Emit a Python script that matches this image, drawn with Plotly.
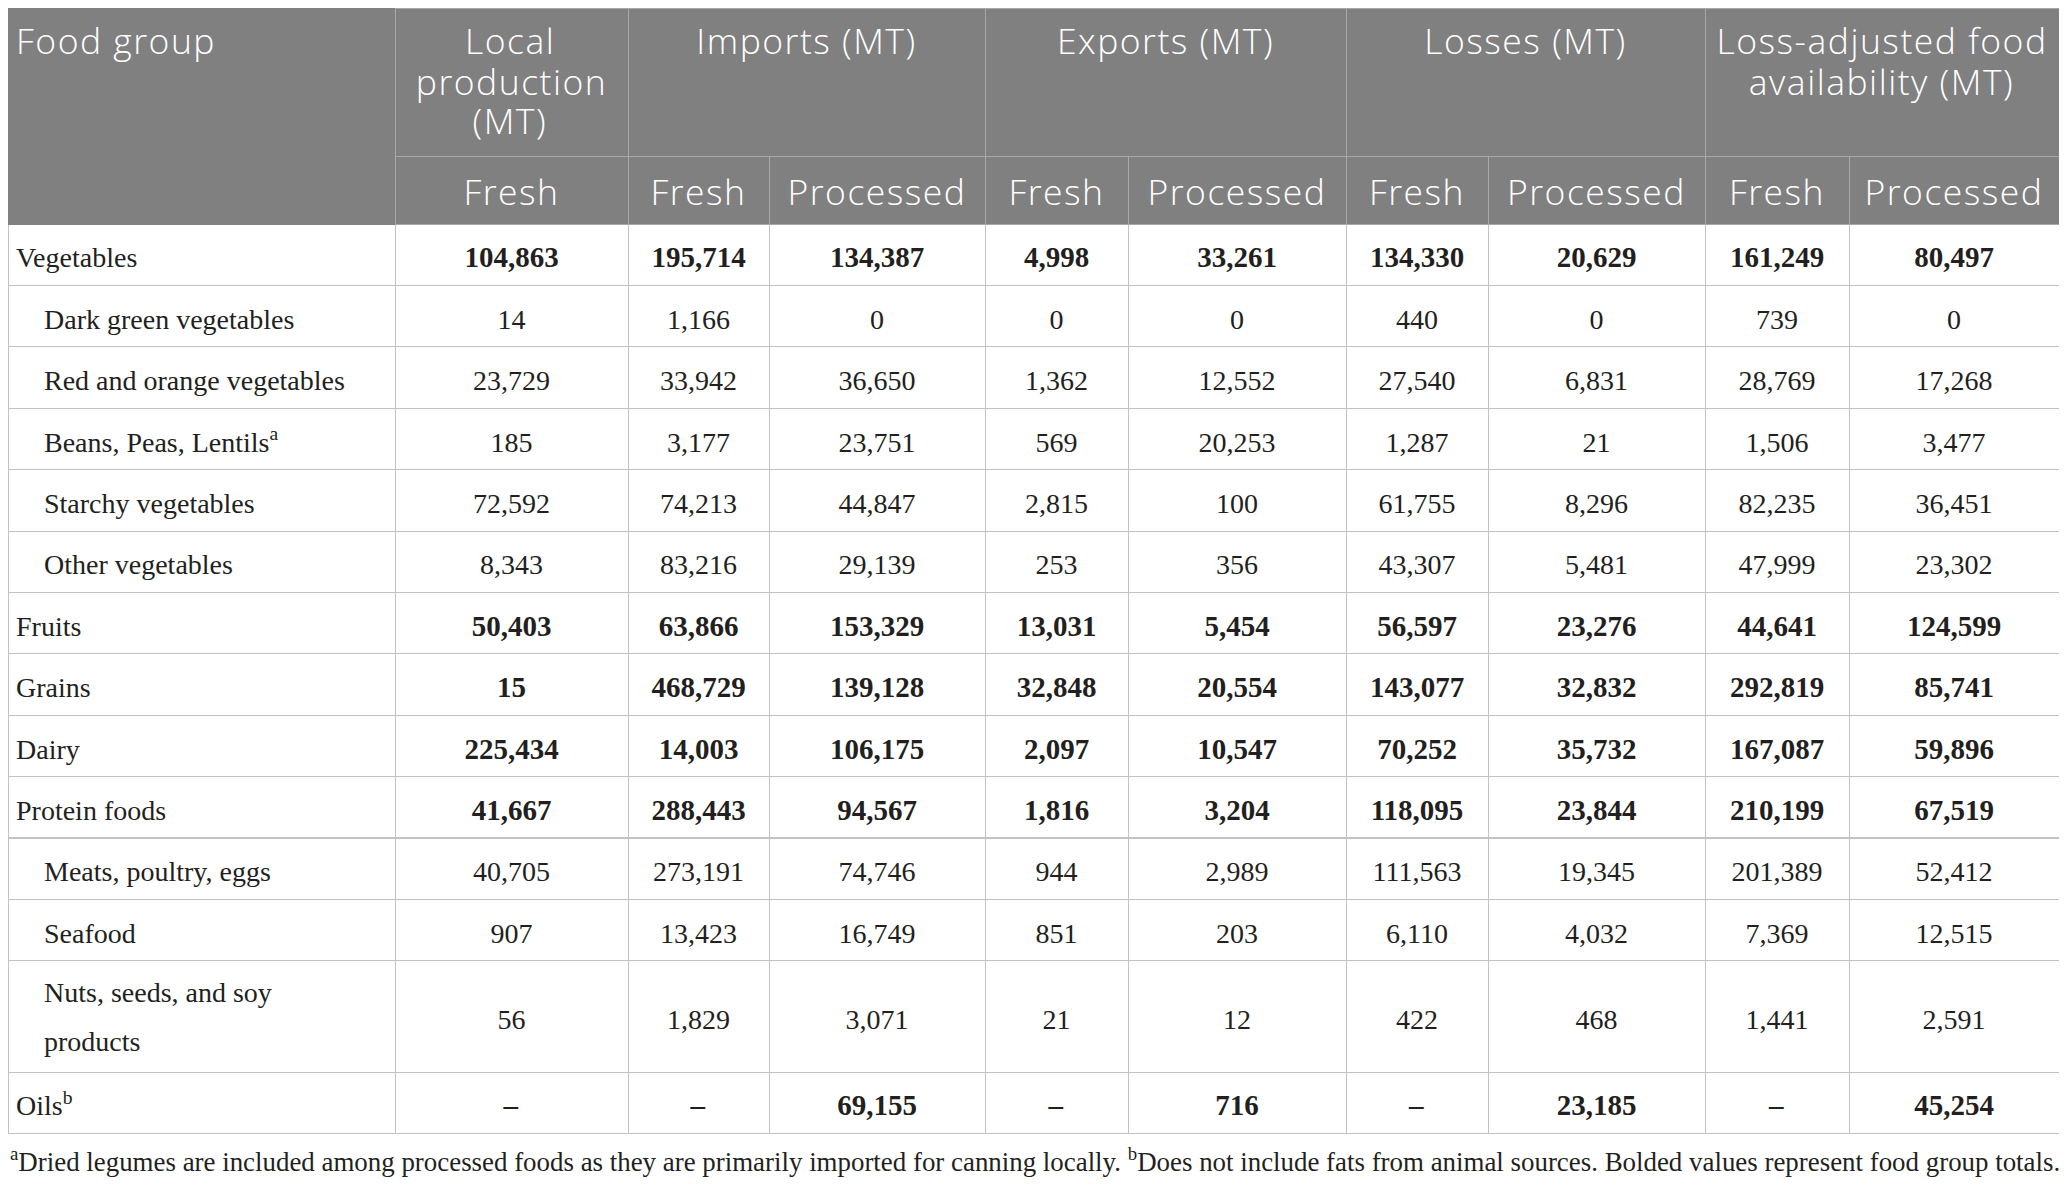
import plotly.graph_objects as go

# ---------------- data ----------------
food_groups = [
    "Vegetables", "Dark green vegetables", "Red and orange vegetables",
    "Beans, Peas, Lentils<sup>a</sup>", "Starchy vegetables", "Other vegetables",
    "Fruits", "Grains", "Dairy", "Protein foods", "Meats, poultry, eggs",
    "Seafood", "Nuts, seeds, and soy<br>products", "Oils<sup>b</sup>",
]
is_total = [True, False, False, False, False, False, True, True, True, True,
            False, False, False, True]
is_sub = [False, True, True, True, True, True, False, False, False, False,
          True, True, True, False]

local_fresh = [104863, 14, 23729, 185, 72592, 8343, 50403, 15, 225434, 41667, 40705, 907, 56, None]
imports_fresh = [195714, 1166, 33942, 3177, 74213, 83216, 63866, 468729, 14003, 288443, 273191, 13423, 1829, None]
imports_proc = [134387, 0, 36650, 23751, 44847, 29139, 153329, 139128, 106175, 94567, 74746, 16749, 3071, 69155]
exports_fresh = [4998, 0, 1362, 569, 2815, 253, 13031, 32848, 2097, 1816, 944, 851, 21, None]
exports_proc = [33261, 0, 12552, 20253, 100, 356, 5454, 20554, 10547, 3204, 2989, 203, 12, 716]
losses_fresh = [134330, 440, 27540, 1287, 61755, 43307, 56597, 143077, 70252, 118095, 111563, 6110, 422, None]
losses_proc = [20629, 0, 6831, 21, 8296, 5481, 23276, 32832, 35732, 23844, 19345, 4032, 468, 23185]
lafa_fresh = [161249, 739, 28769, 1506, 82235, 47999, 44641, 292819, 167087, 210199, 201389, 7369, 1441, None]
lafa_proc = [80497, 0, 17268, 3477, 36451, 23302, 124599, 85741, 59896, 67519, 52412, 12515, 2591, 45254]

top_headers = ["Food group", "Local<br>production<br>(MT)", "Imports (MT)",
               "Exports (MT)", "Losses (MT)", "Loss-adjusted food<br>availability (MT)"]
sub_headers = ["", "Fresh", "Fresh", "Processed", "Fresh", "Processed",
               "Fresh", "Processed", "Fresh", "Processed"]

footnote = ("<sup>a</sup>Dried legumes are included among processed foods as they are primarily "
            "imported for canning locally. <sup>b</sup>Does not include fats from animal sources. "
            "Bolded values represent food group totals.")

# ---------------- styling ----------------
# the page body has an 8px margin, so the figure is sized to fit inside it
W, H = 2051, 1170
HEAD_FILL = "#808080"
HEAD_LINE = "#a8a8a8"
CELL_LINE = "#c2c2c2"
TXT = "#231f20"
SANS = "Open Sans"
SERIF = "Liberation Serif"
HEAD_SIZE = 35.5
CELL_SIZE = 28
NB = "\u00a0"
HEAD_CSS = "letter-spacing:1.5px;font-weight:300"

top_widths = [387, 233, 357, 361, 359, 354]
sub_widths = [387, 233, 141, 216, 143, 218, 142, 217, 144, 210]

TOP_H = 148     # header row 1 height
SUB_H = 68      # header row 2 height
ROW_H = 61.4

# left padding (px) that visually centres the shorter lines of wrapped headers
head_line_pads = {1: [49, 0, 56.5], 5: [0, 32]}

# a 1px spacer line anchors the top, real lines follow (downward px shifts)
SHIFT_ROW = -2.5
SHIFT_TWO_ROW = 22.6
SHIFT_TWO_LBL = [-4, 8, -15]
SHIFT_SUB_HEAD = -6.2

TINY = f'<span style="font-size:1px">{NB}</span>'


def shifted(text, shifts, css="", pads=None):
    """Header text: each line in a span with a vertical shift; the trailing <br>
    keeps plotly's table from re-wrapping the markup on spaces."""
    lines = text.split("<br>")
    out = []
    for i, ln in enumerate(lines):
        s = shifts[i] if i < len(shifts) else shifts[-1]
        extra = (";" + css) if css else ""
        pad = ""
        if pads and pads[i] > 0:
            pad = f'<span style="font-size:1px;letter-spacing:{pads[i]:.1f}px">{NB}</span>'
        out.append(f'<span style="baseline-shift:{-s}px{extra}">{pad}{ln}</span>')
    return "<br>".join(out) + "<br>"


def body(lines, shifts, css=""):
    extra = (";" + css) if css else ""
    out = [TINY]
    for ln, s in zip(lines, shifts):
        out.append(f'<span style="baseline-shift:{-s}px{extra}">{ln}</span>')
    if len(shifts) > len(lines):
        out.append(f'<span style="baseline-shift:{-shifts[-1]}px;font-size:1px">{NB}</span>')
    return "<br>".join(out)


def fmt(v, bold):
    s = "\u2013" if v is None else f"{v:,}"
    return f'<b><span style="font-size:29px">{s}</span></b>' if bold else s


# header row 1
top_txt = [shifted(h, [18, 12.7, 6.2], HEAD_CSS, head_line_pads.get(i))
           for i, h in enumerate(top_headers)]

# header row 2
sub_txt = [body([h if h else NB], [SHIFT_SUB_HEAD], HEAD_CSS) for h in sub_headers]

# first column labels
label_col = []
for name, sub in zip(food_groups, is_sub):
    pad = NB * 4 if sub else ""
    lines = [pad + ln for ln in name.split("<br>")]
    if len(lines) > 1:
        label_col.append(body(lines, SHIFT_TWO_LBL))
    else:
        label_col.append(body(lines, [SHIFT_ROW]))

value_cols = []
for series in [local_fresh, imports_fresh, imports_proc, exports_fresh, exports_proc,
               losses_fresh, losses_proc, lafa_fresh, lafa_proc]:
    col = []
    for v, tot, name in zip(series, is_total, food_groups):
        sh = SHIFT_TWO_ROW if "<br>" in name else SHIFT_ROW
        col.append(body([fmt(v, tot)], [sh]))
    value_cols.append(col)

fig = go.Figure()

fig.add_trace(go.Table(
    domain=dict(x=[0, 1], y=[1 - TOP_H / H, 1]),
    columnwidth=top_widths,
    header=dict(
        values=top_txt,
        height=TOP_H,
        fill_color=HEAD_FILL,
        line=dict(color=[HEAD_FILL] + [HEAD_LINE] * 5, width=1),
        align=["left"] + ["center"] * 5,
        font=dict(family=SANS, size=HEAD_SIZE, color="white"),
    ),
    cells=dict(values=[[] for _ in top_headers],
               line=dict(color=HEAD_FILL, width=0),
               fill_color="rgba(0,0,0,0)"),
))

fig.add_trace(go.Table(
    domain=dict(x=[0, 1], y=[0, 1 - TOP_H / H]),
    columnwidth=sub_widths,
    header=dict(
        values=sub_txt,
        height=SUB_H,
        fill_color=HEAD_FILL,
        line=dict(color=[HEAD_FILL] + [HEAD_LINE] * 9, width=1),
        align=["left"] + ["center"] * 9,
        font=dict(family=SANS, size=HEAD_SIZE, color="white"),
    ),
    cells=dict(
        values=[label_col] + value_cols,
        height=ROW_H,
        fill_color="white",
        line=dict(color=CELL_LINE, width=1),
        align=["left"] + ["center"] * 9,
        font=dict(family=SERIF, size=CELL_SIZE, color=TXT),
    ),
))

fig.add_annotation(
    text=footnote, xref="paper", yref="paper", x=0, y=1 - 1133 / H,
    xanchor="left", yanchor="top", showarrow=False,
    font=dict(family=SERIF, size=26.9, color=TXT),
)

fig.update_layout(
    width=W, height=H, margin=dict(l=0, r=0, t=0, b=0),
    paper_bgcolor="white", plot_bgcolor="white",
)

fig.write_html("out.html")
